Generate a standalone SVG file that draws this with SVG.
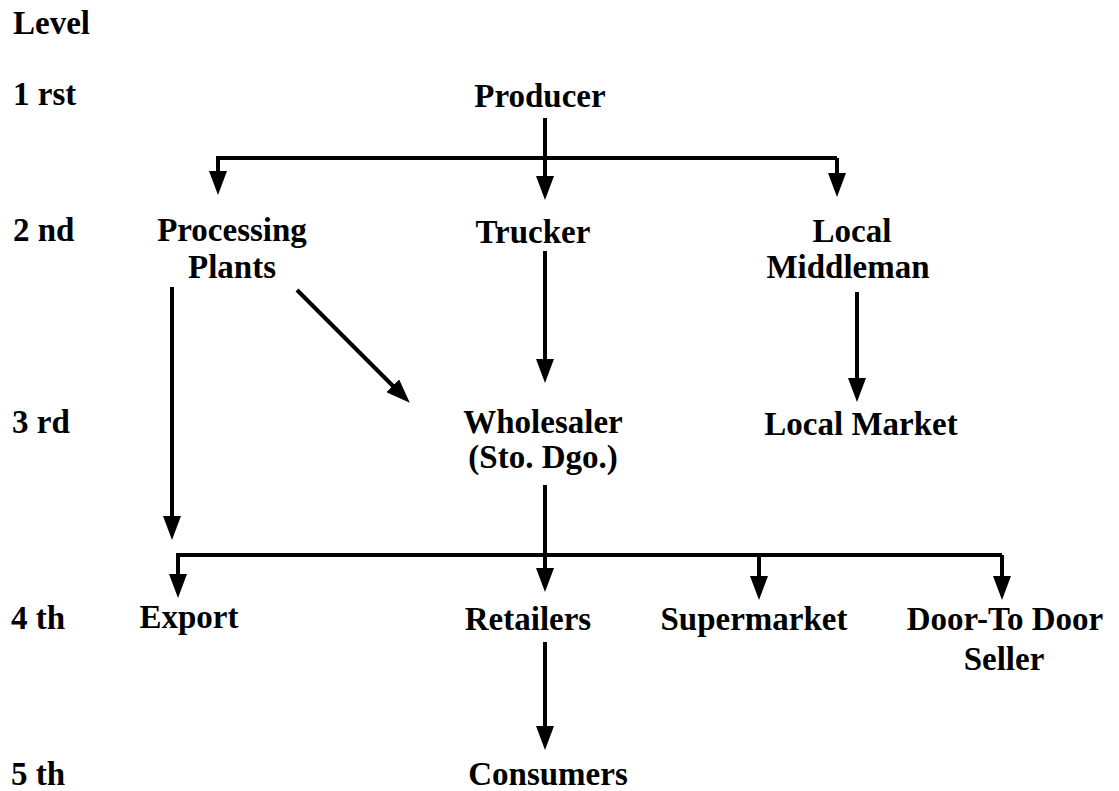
<svg xmlns="http://www.w3.org/2000/svg" width="1119" height="791" viewBox="0 0 1119 791">
<style>
text{font-family:"Liberation Serif","Times New Roman",serif;font-weight:bold;font-size:33px;fill:#000}
.n text{text-anchor:middle}
.c path{fill:none;stroke:#000;stroke-width:4}
</style>
<defs>
<marker id="ah" markerUnits="userSpaceOnUse" markerWidth="24" markerHeight="18" viewBox="0 0 24 18" refX="13" refY="9" orient="auto">
<path d="M0,0 L24,9 L0,18 z" fill="#000"/>
</marker>
</defs>
<rect width="1119" height="791" fill="#fff"/>
<g id="levels">
<text x="13" y="34">Level</text>
<text x="13" y="105">1 rst</text>
<text x="13" y="241">2 nd</text>
<text x="12" y="433">3 rd</text>
<text x="11" y="629">4 th</text>
<text x="11" y="785">5 th</text>
</g>
<g class="n" id="producer"><text x="540" y="107">Producer</text></g>
<g class="n" id="processing"><text x="232" y="241">Processing</text><text x="232" y="278">Plants</text></g>
<g class="n" id="trucker"><text x="533" y="243">Trucker</text></g>
<g class="n" id="middleman"><text x="852" y="242">Local</text><text x="848" y="278">Middleman</text></g>
<g class="n" id="wholesaler"><text x="543" y="433">Wholesaler</text><text x="543" y="468">(Sto. Dgo.)</text></g>
<g class="n" id="localmarket"><text x="861" y="435">Local Market</text></g>
<g class="n" id="export"><text x="189" y="628">Export</text></g>
<g class="n" id="retailers"><text x="528" y="630">Retailers</text></g>
<g class="n" id="supermarket"><text x="754" y="630">Supermarket</text></g>
<g class="n" id="doortodoor"><text x="1005" y="630">Door-To Door</text><text x="1004" y="670">Seller</text></g>
<g class="n" id="consumers"><text x="548" y="785">Consumers</text></g>
<g class="c" id="connectors">
<path d="M545,118 V189" marker-end="url(#ah)"/>
<path d="M837,158 H218 V184" marker-end="url(#ah)"/>
<path d="M837,158 V186" marker-end="url(#ah)"/>
<path d="M545,251 V372" marker-end="url(#ah)"/>
<path d="M857,292 V391" marker-end="url(#ah)"/>
<path d="M297,290 L402,395" marker-end="url(#ah)"/>
<path d="M172,287 V529" marker-end="url(#ah)"/>
<path d="M545,485 V581" marker-end="url(#ah)"/>
<path d="M1002,555 H178 V587" marker-end="url(#ah)"/>
<path d="M759,555 V589" marker-end="url(#ah)"/>
<path d="M1002,555 V589" marker-end="url(#ah)"/>
<path d="M545,642 V739" marker-end="url(#ah)"/>
</g>
</svg>
